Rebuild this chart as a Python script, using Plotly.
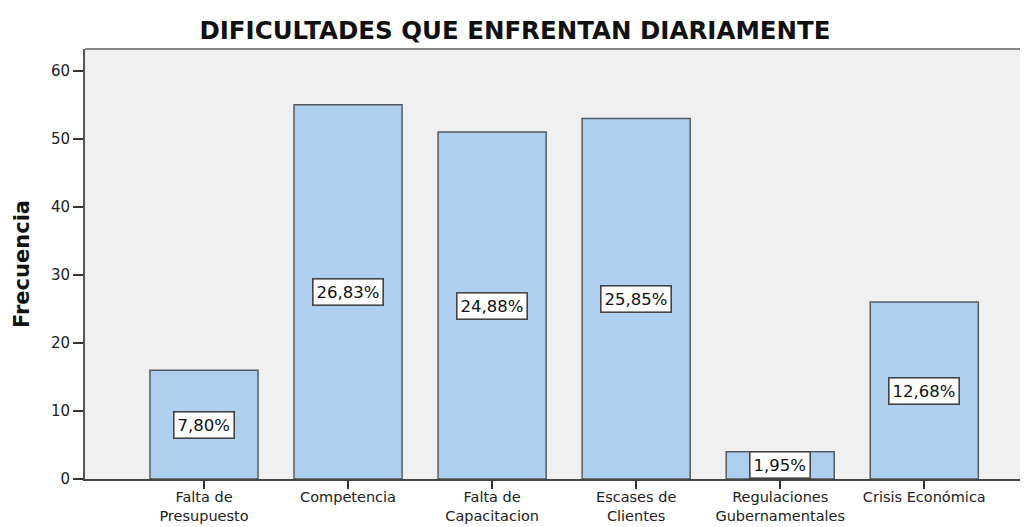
import plotly.graph_objects as go

categories = ["Falta de<br>Presupuesto", "Competencia", "Falta de<br>Capacitacion",
              "Escases de<br>Clientes", "Regulaciones<br>Gubernamentales", "Crisis Económica"]
frecuencia = [16, 55, 51, 53, 4, 26]
y_ticks = [0, 10, 20, 30, 40, 50, 60]

total = sum(frecuencia)
pct_labels = [f"{v / total * 100:.2f}%".replace(".", ",") for v in frecuencia]
xs = list(range(len(categories)))

FONT = "DejaVu Sans, Arial"

fig = go.Figure()
fig.add_trace(go.Bar(
    x=xs, y=frecuencia, width=0.75,
    marker=dict(color="#aecfee", line=dict(color="#555a60", width=1.5)),
    hoverinfo="skip",
))

for x, v, t in zip(xs, frecuencia, pct_labels):
    fig.add_annotation(
        x=x, y=v / 2, text=t, showarrow=False,
        font=dict(family=FONT, size=16.5, color="#111"),
        bgcolor="white", bordercolor="#444", borderwidth=1.6, borderpad=3,
    )

# The page body has an 8px margin, so the figure is 8px smaller than the window.
fig.update_layout(
    width=1020, height=519,
    margin=dict(l=77, r=0, t=41, b=48, autoexpand=False),
    paper_bgcolor="white", plot_bgcolor="#f0f0f0",
    showlegend=False,
    title=dict(text="<b>DIFICULTADES QUE ENFRENTAN DIARIAMENTE</b>",
               x=0.497, xanchor="center", y=0.957, yanchor="middle",
               font=dict(family=FONT, size=24.5, color="#111")),
)

fig.update_xaxes(
    range=[-0.826, 5.72], tickmode="array", tickvals=xs, ticktext=categories,
    ticks="outside", ticklen=8, tickcolor="#333", tickwidth=1.5,
    ticklabelstandoff=-4,
    showline=True, linecolor="#444", linewidth=2,
    showgrid=False, zeroline=False, automargin=False,
    tickfont=dict(family=FONT, size=14.5, color="#222"),
)
fig.update_yaxes(
    range=[0, 63.2], tickmode="array", tickvals=y_ticks,
    ticks="outside", ticklen=10, tickcolor="#333", tickwidth=1.5,
    showline=True, linecolor="#555", linewidth=2,
    showgrid=False, zeroline=False, automargin=False,
    tickfont=dict(family=FONT, size=15, color="#222"),
    title=dict(text="<b>Frecuencia</b>", standoff=16,
               font=dict(family=FONT, size=21, color="#111")),
)

# top frame line
fig.add_shape(type="line", xref="paper", yref="paper", x0=0, x1=1, y0=1, y1=1,
              line=dict(color="#888", width=2))

fig.write_html("out.html")
